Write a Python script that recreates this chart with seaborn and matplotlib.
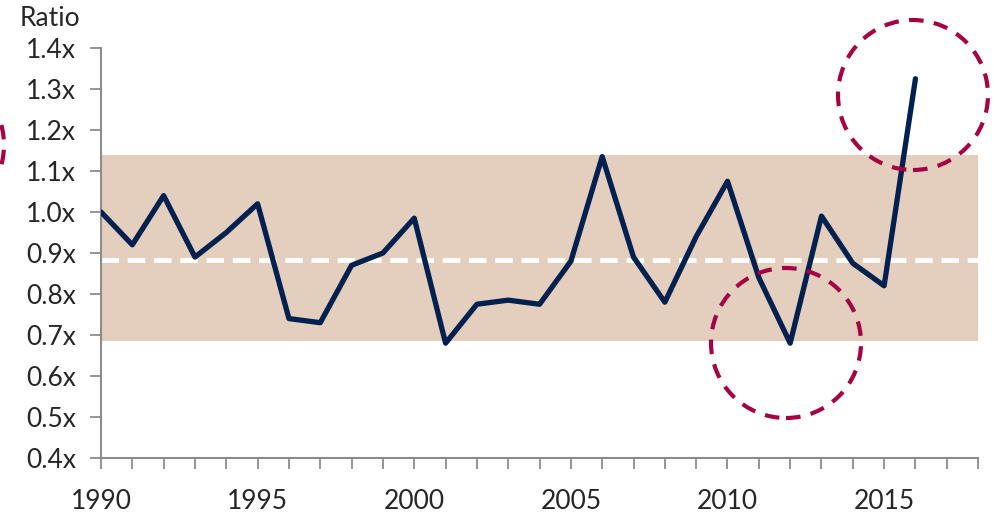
import matplotlib
matplotlib.use("Agg")
import matplotlib.pyplot as plt
import seaborn as sns
import pandas as pd
from matplotlib.patches import Ellipse

years = list(range(1990, 2017))
ratio = [1.00, 0.92, 1.04, 0.89, 0.95, 1.02, 0.74, 0.73, 0.87, 0.90,
         0.985, 0.68, 0.775, 0.785, 0.775, 0.88, 1.135, 0.89, 0.78, 0.94,
         1.075, 0.84, 0.68, 0.99, 0.875, 0.82, 1.325]
band_low, band_high = 0.685, 1.14
avg_ratio = 0.883
y_ticks = [0.4, 0.5, 0.6, 0.7, 0.8, 0.9, 1.0, 1.1, 1.2, 1.3, 1.4]
y_tick_labels = [f"{v:.1f}x" for v in y_ticks]
x_label_years = [1990, 1995, 2000, 2005, 2010, 2015]

sns.set_style("white")
plt.rcParams['font.family'] = ['Lato', 'DejaVu Sans']

fig = plt.figure(figsize=(9.94, 5.15), dpi=100)
ax = fig.add_axes([0.1016, 0.1107, 0.8824, 0.7961])

df = pd.DataFrame({"year": years, "ratio": ratio})
ax.axhspan(band_low, band_high, color="#E4CFBF", zorder=0, lw=0)
ax.axhline(avg_ratio, color="white", lw=3.5, ls=(0, (3.6, 1.8)), zorder=2)
sns.lineplot(data=df, x="year", y="ratio", color="#002050", lw=3.8, ax=ax, zorder=3)

ax.set_xlim(1990, 2018)
ax.set_ylim(0.4, 1.4)
ax.set_yticks(y_ticks)
ax.set_yticklabels(y_tick_labels, fontsize=19)
ax.set_xticks(list(range(1990, 2019)))
ax.set_xticklabels([str(y) if y in x_label_years else "" for y in range(1990, 2019)], fontsize=19)
ax.set_xlabel("")
ax.set_ylabel("")
for s in ["top", "right"]:
    ax.spines[s].set_visible(False)
for s in ["left", "bottom"]:
    ax.spines[s].set_color("#8c8c8c")
    ax.spines[s].set_linewidth(1.5)
ax.tick_params(axis="both", which="major", length=8, width=1.3, color="#8c8c8c",
               direction="out", left=True, bottom=True)
ax.tick_params(axis="y", pad=10)
ax.tick_params(axis="x", pad=14)

# dashed highlight circles (in pixel-like figure coordinates)
W, H = 994, 515
def circ(cx, cy, r):
    e = Ellipse((cx / W, 1 - cy / H), 2 * r / W, 2 * r / H, transform=fig.transFigure,
                fill=False, ec="#A50044", lw=3, ls=(0, (3.5, 2.5)), zorder=5, clip_on=False)
    fig.add_artist(e)
circ(913, 95, 75)
circ(786, 343, 75)
circ(-72, 145, 76)

fig.text(20 / W, 1 - 18 / H, "Ratio", fontsize=19, va="center", ha="left")

fig.savefig("out.png", dpi=100)
